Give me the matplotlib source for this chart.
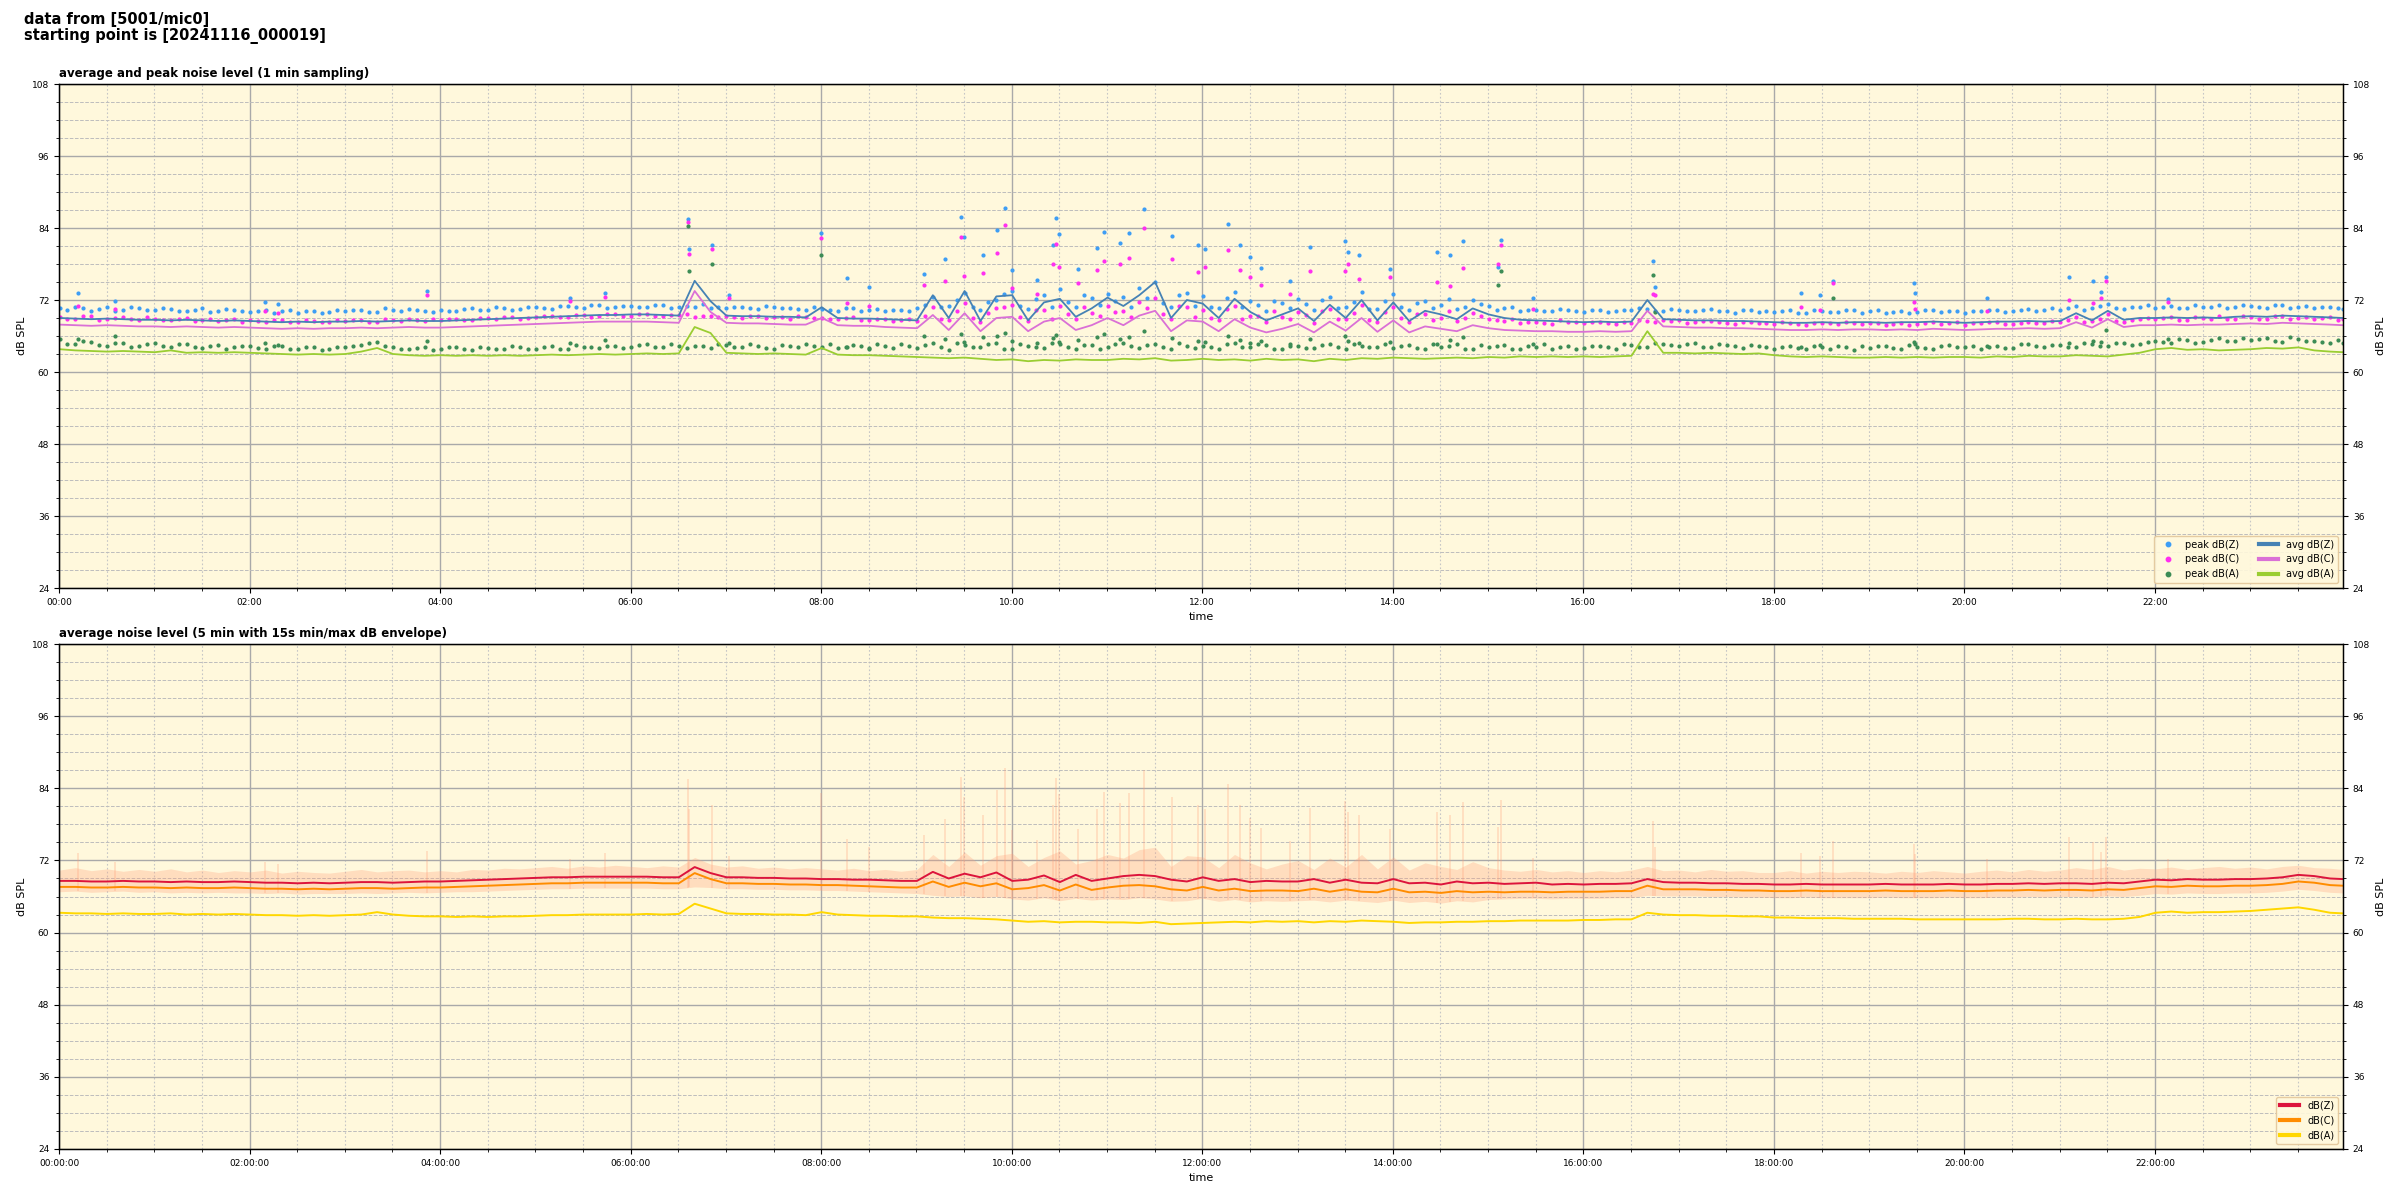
import datetime as dt
import numpy as np
import matplotlib
matplotlib.use("Agg")
import matplotlib.pyplot as plt
import matplotlib.dates as mdates
from matplotlib.ticker import MultipleLocator

# 10 minute samples, 00:00 .. 23:50 plus the last one at 23:58
# top panel (1 min sampling)
avg_z = [69.0, 68.9, 68.8, 68.9, 68.8, 68.7, 68.7, 68.6, 68.7, 68.6, 68.5, 68.6,
         68.5, 68.4, 68.3, 68.4, 68.3, 68.4, 68.4, 68.5, 68.4, 68.5, 68.6, 68.5,
         68.5, 68.6, 68.7, 68.8, 68.9, 69.0, 69.1, 69.2, 69.3, 69.4, 69.5, 69.5,
         69.6, 69.6, 69.5, 69.4, 75.2, 71.8, 69.4, 69.3, 69.3, 69.2, 69.2, 69.1,
         70.8, 69.0, 68.9, 68.9, 68.8, 68.7, 68.6, 72.8, 69.0, 73.5, 68.5, 72.6,
         72.8, 68.6, 71.6, 72.2, 69.2, 70.6, 72.4, 71.0, 72.8, 75.0, 69.0, 72.0,
         71.4, 69.0, 72.2, 70.0, 68.6, 69.6, 70.6, 68.5, 71.2, 69.0, 72.0, 68.6,
         71.6, 68.5, 70.2, 69.6, 68.8, 70.6, 69.6, 69.0, 68.7, 68.6, 68.5, 68.4,
         68.3, 68.4, 68.3, 68.4, 72.0, 68.8, 68.7, 68.6, 68.6, 68.5, 68.5, 68.4,
         68.3, 68.2, 68.2, 68.3, 68.2, 68.3, 68.3, 68.2, 68.3, 68.3, 68.4, 68.3,
         68.2, 68.3, 68.4, 68.4, 68.5, 68.4, 68.5, 69.8, 68.6, 70.2, 68.7, 69.0,
         69.0, 69.1, 69.0, 69.1, 69.0, 69.2, 69.3, 69.2, 69.4, 69.3, 69.2, 69.1, 69.0]
avg_c = [67.9, 67.8, 67.7, 67.8, 67.7, 67.6, 67.6, 67.5, 67.6, 67.5, 67.4, 67.5,
         67.4, 67.3, 67.2, 67.3, 67.2, 67.3, 67.3, 67.4, 67.3, 67.4, 67.5, 67.4,
         67.4, 67.5, 67.6, 67.7, 67.8, 67.9, 68.0, 68.1, 68.2, 68.3, 68.4, 68.4,
         68.4, 68.4, 68.3, 68.2, 73.5, 70.0, 68.2, 68.1, 68.1, 68.0, 67.9, 67.9,
         69.0, 67.8, 67.7, 67.7, 67.5, 67.4, 67.3, 69.5, 67.0, 69.8, 66.8, 69.0,
         69.2, 66.8, 68.4, 69.0, 67.0, 67.8, 69.0, 67.8, 69.4, 70.2, 66.8, 68.6,
         68.4, 66.8, 68.8, 67.4, 66.6, 67.2, 68.0, 66.6, 68.4, 66.9, 69.0, 66.7,
         68.6, 66.6, 67.6, 67.2, 66.8, 67.8, 67.3, 67.0, 66.9, 66.8, 66.8, 66.7,
         66.7, 66.8, 66.7, 66.8, 70.2, 67.6, 67.5, 67.4, 67.4, 67.3, 67.3, 67.2,
         67.1, 67.0, 67.0, 67.1, 67.0, 67.1, 67.1, 67.0, 67.1, 67.0, 67.2, 67.1,
         67.0, 67.1, 67.2, 67.2, 67.3, 67.2, 67.3, 68.3, 67.4, 68.8, 67.5, 67.8,
         67.8, 67.9, 67.8, 67.9, 67.9, 68.0, 68.1, 68.0, 68.2, 68.1, 68.0, 67.9, 67.8]
avg_a = [63.8, 63.6, 63.5, 63.4, 63.5, 63.4, 63.3, 63.6, 63.2, 63.3, 63.2, 63.3,
         63.2, 63.1, 63.0, 62.9, 63.0, 62.9, 63.0, 63.4, 64.0, 63.0, 62.8, 62.7,
         62.8, 62.7, 62.8, 62.7, 62.8, 62.7, 62.8, 62.9, 62.8, 62.9, 63.0, 62.9,
         63.0, 63.1, 63.0, 63.1, 67.5, 66.5, 63.2, 63.1, 63.0, 63.1, 63.0, 62.9,
         64.0, 62.9, 62.8, 62.8, 62.7, 62.6, 62.5, 62.4, 62.3, 62.4, 62.2, 62.0,
         62.1, 61.8, 62.0, 61.9, 62.1, 62.0, 62.0, 62.2, 62.1, 62.3, 61.9, 62.0,
         62.2, 62.0, 62.1, 61.9, 62.2, 62.0, 62.1, 61.8, 62.2, 62.0, 62.3, 62.2,
         62.4, 62.3, 62.2, 62.3, 62.4, 62.3, 62.5, 62.4, 62.6, 62.5, 62.6, 62.5,
         62.6, 62.5, 62.6, 62.7, 66.8, 63.2, 63.2, 63.1, 63.2, 63.1, 63.0, 63.1,
         62.8, 62.6, 62.5, 62.6, 62.5, 62.4, 62.4, 62.5, 62.4, 62.5, 62.4, 62.5,
         62.5, 62.4, 62.6, 62.5, 62.7, 62.6, 62.6, 62.8, 62.7, 62.6, 62.9, 63.2,
         63.8, 64.0, 63.7, 63.8, 63.6, 63.7, 63.8, 64.0, 63.9, 64.1, 63.6, 63.4, 63.3]
peak_z = [70.6, 70.9, 70.2, 70.8, 70.4, 70.7, 70.3, 70.5, 70.1, 70.6, 70.2, 70.4,
          70.0, 70.3, 70.1, 69.9, 70.2, 70.0, 70.1, 70.4, 70.0, 70.3, 70.5, 70.2,
          70.4, 70.1, 70.6, 70.3, 70.7, 70.5, 70.8, 70.5, 71.0, 70.7, 71.1, 70.9,
          71.0, 70.8, 71.2, 70.9, 70.9, 70.7, 70.7, 70.9, 70.5, 70.8, 70.6, 70.4,
          70.5, 70.2, 70.6, 70.3, 70.1, 70.4, 70.6, 72.5, 71.0, 73.2, 70.4, 72.0,
          73.5, 70.5, 72.8, 73.8, 70.9, 72.4, 73.0, 72.5, 74.0, 75.0, 70.8, 73.2,
          72.6, 70.6, 73.4, 71.8, 70.2, 71.5, 72.2, 70.3, 72.5, 70.8, 73.4, 70.5,
          73.0, 70.3, 71.8, 71.2, 70.5, 72.0, 71.0, 70.6, 70.2, 70.4, 70.1, 70.3,
          70.0, 70.3, 70.1, 70.4, 70.5, 70.2, 70.4, 70.2, 70.5, 70.1, 70.3, 70.0,
          70.0, 70.3, 69.9, 70.2, 70.0, 70.3, 70.1, 69.9, 70.2, 70.0, 70.3, 70.1,
          69.9, 70.2, 70.4, 70.1, 70.5, 70.3, 70.4, 71.0, 70.6, 71.3, 70.5, 70.9,
          70.7, 71.0, 70.6, 70.9, 71.2, 70.8, 71.0, 70.7, 71.1, 70.9, 70.6, 70.8, 70.5]
peak_c = [69.2, 68.8, 69.4, 68.9, 69.1, 68.7, 68.9, 68.6, 69.0, 68.7, 68.5, 68.8,
          68.6, 68.4, 68.7, 68.3, 68.5, 68.4, 68.5, 68.7, 68.4, 68.6, 68.8, 68.5,
          68.6, 68.9, 68.7, 69.0, 69.1, 68.9, 69.2, 69.4, 69.1, 69.5, 69.3, 69.6,
          69.4, 69.7, 69.3, 69.5, 69.2, 69.4, 69.3, 69.0, 69.4, 69.1, 68.9, 69.2,
          69.0, 68.8, 69.1, 68.7, 68.9, 68.6, 68.5, 70.8, 68.7, 71.5, 68.4, 70.6,
          71.2, 68.5, 70.4, 71.0, 68.9, 69.8, 71.0, 70.2, 71.6, 72.4, 68.8, 70.8,
          70.4, 68.6, 71.0, 69.4, 68.3, 69.2, 70.0, 68.2, 70.5, 68.8, 71.2, 68.4,
          70.8, 68.3, 69.6, 69.0, 68.5, 69.8, 68.9, 68.5, 68.2, 68.4, 68.0, 68.3,
          68.1, 68.3, 68.0, 68.2, 68.5, 68.7, 68.6, 68.3, 68.5, 68.2, 68.4, 68.1,
          68.0, 68.2, 67.9, 68.1, 68.0, 68.2, 68.1, 67.9, 68.2, 68.0, 68.3, 68.1,
          67.9, 68.1, 68.3, 68.0, 68.4, 68.2, 68.3, 69.2, 68.5, 69.6, 68.4, 68.9,
          68.8, 69.1, 68.7, 69.0, 69.3, 68.9, 69.2, 68.9, 69.4, 69.0, 68.8, 69.1, 68.8]
peak_a = [65.5, 64.6, 65.0, 64.3, 64.8, 64.4, 64.9, 64.2, 64.6, 64.0, 64.5, 64.2,
          64.4, 63.9, 64.3, 63.8, 64.2, 63.9, 64.1, 64.5, 65.0, 64.2, 63.8, 64.1,
          63.9, 64.2, 63.7, 64.0, 63.8, 64.1, 63.9, 64.3, 63.8, 64.2, 64.0, 64.4,
          64.2, 64.6, 64.1, 64.4, 64.3, 64.0, 64.5, 64.1, 64.4, 63.9, 64.3, 64.7,
          64.2, 64.0, 64.5, 63.9, 64.3, 64.6, 64.0, 64.8, 63.7, 64.5, 64.1, 64.9,
          63.9, 64.4, 64.0, 64.7, 63.8, 64.5, 64.2, 64.9, 64.0, 64.6, 63.8, 64.3,
          64.4, 63.9, 64.8, 64.1, 64.5, 63.8, 64.3, 64.0, 64.6, 63.9, 64.4, 64.1,
          64.0, 64.5, 63.8, 64.2, 64.6, 63.9, 64.1, 64.5, 63.8, 64.2, 63.9, 64.4,
          64.0, 64.3, 63.9, 64.5, 64.2, 64.6, 64.3, 64.8, 64.1, 64.5, 64.0, 64.4,
          63.9, 64.3, 63.8, 64.1, 64.4, 63.7, 64.0, 64.3, 63.8, 64.2, 63.9, 64.5,
          64.1, 63.8, 64.4, 64.0, 64.6, 64.2, 64.5, 64.1, 64.7, 64.3, 64.9, 64.6,
          65.2, 64.8, 65.4, 65.0, 65.6, 65.1, 65.3, 65.7, 65.0, 65.5, 65.2, 64.9, 64.8]
# peaks half way between the samples above (00:05, 00:15, ...)
peak_z_mid = [70.3, 70.7, 70.5, 70.1, 70.9, 70.4, 70.6, 70.2, 70.4, 70.0, 70.5, 70.1,
              70.2, 69.9, 70.4, 70.1, 69.8, 70.3, 70.3, 70.0, 70.6, 70.2, 70.4, 70.0,
              70.2, 70.5, 70.3, 70.8, 70.4, 70.9, 70.6, 71.0, 70.8, 71.2, 70.7, 71.0,
              70.9, 71.1, 70.7, 71.0, 71.3, 70.8, 70.9, 70.6, 71.0, 70.7, 70.5, 70.8,
              70.3, 70.6, 70.2, 70.5, 70.3, 70.1, 71.2, 70.8, 72.0, 70.9, 71.6, 73.0,
              71.0, 72.2, 70.8, 71.6, 72.8, 71.2, 71.8, 70.9, 72.4, 71.5, 72.9, 71.0,
              70.9, 72.4, 70.8, 71.2, 71.9, 70.6, 71.4, 72.0, 70.7, 71.6, 70.5, 71.9,
              70.8, 71.5, 70.6, 72.2, 70.9, 71.3, 70.4, 70.8, 70.3, 70.1, 70.5, 70.2,
              70.4, 70.0, 70.3, 70.6, 70.2, 70.5, 70.1, 70.4, 70.2, 69.9, 70.3, 70.1,
              70.2, 69.9, 70.3, 70.0, 70.4, 69.9, 70.3, 70.0, 69.8, 70.3, 70.0, 70.2,
              70.1, 70.4, 70.0, 70.3, 70.2, 70.6, 70.7, 70.4, 71.0, 70.6, 70.8, 71.1,
              70.9, 70.6, 71.1, 70.8, 70.7, 71.2, 70.8, 71.2, 70.7, 71.0, 70.9, 70.6]
peak_c_mid = [68.9, 69.3, 68.7, 69.0, 68.8, 69.1, 68.6, 68.9, 68.5, 68.8, 68.6, 68.4,
              68.5, 68.7, 68.3, 68.6, 68.4, 68.7, 68.6, 68.4, 68.8, 68.5, 68.7, 68.9,
              68.8, 68.6, 69.0, 68.8, 69.2, 69.0, 69.3, 69.1, 69.5, 69.2, 69.6, 69.4,
              69.6, 69.3, 69.5, 69.7, 69.4, 69.2, 69.1, 69.4, 69.0, 69.2, 69.3, 69.0,
              68.8, 69.0, 68.7, 68.9, 68.5, 68.8, 69.4, 68.9, 70.2, 69.0, 69.8, 70.9,
              69.2, 70.3, 68.9, 69.7, 70.8, 69.4, 70.0, 69.1, 70.6, 69.6, 71.0, 69.2,
              69.0, 70.5, 68.9, 69.3, 70.1, 68.8, 69.5, 70.2, 68.8, 69.8, 68.6, 70.0,
              69.0, 69.6, 68.7, 70.2, 69.0, 69.4, 68.6, 68.9, 68.4, 68.2, 68.6, 68.3,
              68.4, 68.1, 68.4, 68.6, 68.3, 68.5, 68.2, 68.5, 68.3, 68.0, 68.4, 68.2,
              68.3, 68.0, 68.2, 68.1, 68.3, 68.0, 68.2, 68.0, 67.9, 68.2, 68.0, 68.3,
              68.1, 68.3, 68.0, 68.2, 68.1, 68.5, 68.6, 68.3, 68.9, 68.5, 68.7, 69.0,
              69.0, 68.7, 69.2, 68.9, 68.8, 69.3, 68.9, 69.3, 68.8, 69.1, 69.0, 68.7]
peak_a_mid = [64.7, 65.2, 64.5, 64.9, 64.2, 64.6, 64.3, 64.7, 64.1, 64.4, 63.9, 64.3,
              64.0, 64.4, 63.8, 64.1, 63.7, 64.2, 64.3, 64.8, 64.4, 63.9, 64.0, 63.7,
              64.1, 63.8, 64.2, 63.9, 64.3, 63.9, 64.2, 63.9, 64.5, 64.1, 64.3, 64.0,
              64.5, 64.2, 64.6, 64.0, 64.4, 64.7, 64.2, 64.6, 64.0, 64.5, 64.1, 64.3,
              64.6, 64.1, 64.3, 64.7, 64.0, 64.4, 64.5, 64.1, 64.9, 64.2, 64.6, 63.9,
              64.6, 64.1, 64.8, 64.2, 64.5, 63.9, 64.7, 64.3, 64.5, 64.1, 64.8, 64.0,
              64.1, 64.6, 64.2, 64.7, 63.9, 64.4, 64.0, 64.5, 64.2, 64.7, 64.1, 64.6,
              64.3, 64.0, 64.6, 64.4, 63.9, 64.5, 64.4, 63.9, 64.3, 64.6, 64.1, 63.9,
              64.4, 64.1, 64.6, 64.2, 64.8, 64.5, 64.6, 64.2, 64.7, 64.3, 64.5, 64.1,
              64.2, 64.0, 64.4, 63.9, 64.1, 64.3, 64.3, 64.0, 64.5, 64.0, 64.4, 64.1,
              64.4, 64.2, 64.0, 64.6, 64.3, 64.5, 64.2, 64.8, 64.4, 64.9, 64.5, 65.0,
              65.0, 65.5, 64.9, 65.3, 65.1, 65.6, 65.5, 65.1, 65.8, 65.2, 65.0, 65.3]

# isolated loud minutes: time, peak dB(Z), peak dB(C), peak dB(A)
event_time = ["00:12", "00:35", "02:10", "02:18", "03:52", "05:22", "05:44", "06:36",
              "06:37", "06:51", "07:02", "08:00", "08:16", "08:30", "09:05", "09:18",
              "09:28", "09:30", "09:42", "09:51", "09:56", "10:00", "10:16", "10:26",
              "10:28", "10:30", "10:42", "10:54", "10:58", "11:08", "11:14", "11:23",
              "11:41", "11:57", "12:02", "12:16", "12:24", "12:30", "12:37", "12:55",
              "13:08", "13:30", "13:32", "13:39", "13:58", "14:28", "14:36", "14:44",
              "15:06", "15:08", "15:28", "16:44", "16:45", "18:17", "18:29", "18:37",
              "19:28", "19:29", "20:14", "21:06", "21:21", "21:26", "21:29", "22:08"]
event_z = [73.2, 71.8, 71.7, 71.4, 73.5, 72.3, 73.2, 85.5, 80.5, 81.2, 72.8, 83.2,
           75.6, 74.2, 76.3, 78.9, 85.8, 82.5, 79.5, 83.7, 87.3, 77.0, 75.4, 81.2,
           85.7, 83.0, 77.2, 80.6, 83.4, 81.5, 83.2, 87.1, 82.6, 81.2, 80.5, 84.7,
           81.2, 79.1, 77.4, 75.2, 80.8, 81.9, 80.0, 79.5, 77.2, 80.0, 79.5, 81.8,
           77.5, 82.0, 72.4, 78.5, 74.2, 73.2, 72.8, 75.2, 74.8, 73.1, 72.3, 75.9,
           75.1, 73.4, 75.9, 72.2]
event_c = [71.0, 70.5, 70.2, 69.8, 72.8, 71.8, 72.5, 85.0, 79.6, 80.5, 72.3, 82.3,
           71.5, 71.0, 74.5, 75.2, 82.5, 76.0, 76.5, 79.8, 84.5, 74.0, 73.0, 78.0,
           81.4, 77.5, 74.8, 77.0, 78.5, 78.0, 79.0, 84.0, 78.8, 76.7, 77.5, 80.3,
           77.0, 75.8, 74.5, 73.0, 76.9, 76.9, 78.0, 75.5, 75.8, 75.0, 74.3, 77.3,
           78.0, 81.2, 70.5, 73.0, 72.8, 70.8, 70.3, 74.8, 71.6, 70.5, 70.2, 72.0,
           71.5, 72.4, 75.2, 71.6]
event_a = [65.5, 66.0, 64.8, 64.5, 65.2, 64.9, 65.4, 84.3, 76.8, 78.0, 64.8, 79.5,
           64.2, 64.0, 66.0, 65.5, 66.3, 65.0, 65.8, 66.0, 66.5, 65.2, 64.8, 65.6,
           66.2, 65.0, 65.4, 65.9, 66.4, 65.5, 65.8, 66.8, 65.6, 65.2, 65.0, 66.0,
           65.4, 64.9, 65.1, 64.6, 65.5, 66.0, 65.2, 64.8, 65.0, 64.7, 65.3, 65.8,
           74.5, 76.8, 64.6, 76.2, 70.0, 64.2, 64.5, 72.4, 65.0, 64.6, 64.3, 64.9,
           65.2, 65.0, 67.0, 65.5]

# bottom panel (5 min average + 15 s min/max envelope)
env_z = [68.6, 68.6, 68.5, 68.5, 68.6, 68.5, 68.5, 68.4, 68.5, 68.4, 68.4, 68.5,
         68.4, 68.3, 68.3, 68.2, 68.3, 68.2, 68.3, 68.4, 68.4, 68.3, 68.4, 68.5,
         68.5, 68.6, 68.7, 68.8, 68.9, 69.0, 69.1, 69.2, 69.2, 69.3, 69.3, 69.3,
         69.3, 69.3, 69.2, 69.2, 70.9, 69.9, 69.2, 69.2, 69.1, 69.1, 69.0, 69.0,
         68.9, 68.9, 68.8, 68.8, 68.7, 68.6, 68.6, 70.1, 69.0, 69.8, 69.2, 70.0,
         68.6, 68.8, 69.5, 68.4, 69.6, 68.6, 69.0, 69.4, 69.6, 69.4, 68.8, 68.5,
         69.2, 68.6, 68.9, 68.4, 68.6, 68.5, 68.5, 68.9, 68.3, 68.8, 68.3, 68.2,
         68.9, 68.2, 68.3, 68.0, 68.5, 68.2, 68.3, 68.1, 68.2, 68.3, 68.0, 68.1,
         68.0, 68.1, 68.1, 68.2, 68.9, 68.4, 68.3, 68.3, 68.2, 68.2, 68.1, 68.1,
         68.0, 68.0, 68.1, 68.0, 68.0, 68.0, 68.0, 68.1, 68.0, 68.0, 68.0, 68.1,
         68.0, 68.0, 68.1, 68.1, 68.2, 68.1, 68.2, 68.2, 68.1, 68.3, 68.2, 68.5,
         68.8, 68.7, 68.9, 68.8, 68.8, 68.9, 68.9, 69.0, 69.2, 69.6, 69.4, 69.0, 68.9]
env_c = [67.6, 67.6, 67.5, 67.5, 67.6, 67.5, 67.5, 67.4, 67.5, 67.4, 67.4, 67.5,
         67.4, 67.3, 67.3, 67.2, 67.3, 67.2, 67.3, 67.4, 67.4, 67.3, 67.4, 67.5,
         67.5, 67.6, 67.7, 67.8, 67.9, 68.0, 68.1, 68.2, 68.2, 68.3, 68.3, 68.3,
         68.3, 68.3, 68.2, 68.2, 69.9, 68.9, 68.2, 68.2, 68.1, 68.1, 68.0, 68.0,
         67.9, 67.9, 67.8, 67.7, 67.6, 67.5, 67.5, 68.5, 67.6, 68.3, 67.7, 68.2,
         67.2, 67.4, 67.9, 67.0, 68.0, 67.1, 67.5, 67.8, 67.9, 67.7, 67.2, 67.0,
         67.6, 67.0, 67.3, 66.9, 67.0, 67.0, 66.9, 67.3, 66.8, 67.2, 66.8, 66.7,
         67.3, 66.7, 66.8, 66.6, 66.9, 66.7, 66.8, 66.7, 66.8, 66.8, 66.7, 66.8,
         66.8, 66.8, 66.9, 66.9, 67.8, 67.2, 67.2, 67.2, 67.1, 67.1, 67.0, 67.0,
         66.9, 66.9, 67.0, 66.9, 66.9, 66.9, 66.9, 67.0, 66.9, 66.9, 66.9, 67.0,
         66.9, 66.9, 67.0, 67.0, 67.1, 67.0, 67.1, 67.1, 67.0, 67.2, 67.1, 67.4,
         67.7, 67.6, 67.8, 67.7, 67.7, 67.8, 67.8, 67.9, 68.1, 68.5, 68.3, 67.9, 67.8]
env_a = [63.3, 63.2, 63.2, 63.1, 63.2, 63.1, 63.1, 63.2, 63.0, 63.1, 63.0, 63.1,
         63.0, 62.9, 62.9, 62.8, 62.9, 62.8, 62.9, 63.0, 63.4, 63.0, 62.8, 62.7,
         62.7, 62.6, 62.7, 62.6, 62.7, 62.7, 62.8, 62.9, 62.9, 63.0, 63.0, 63.0,
         63.0, 63.1, 63.0, 63.1, 64.8, 64.0, 63.2, 63.1, 63.1, 63.0, 63.0, 62.9,
         63.4, 63.0, 62.9, 62.8, 62.8, 62.7, 62.7, 62.5, 62.4, 62.4, 62.3, 62.2,
         62.0, 61.8, 61.9, 61.7, 61.8, 61.8, 61.7, 61.7, 61.6, 61.8, 61.4, 61.5,
         61.6, 61.7, 61.8, 61.7, 61.9, 61.8, 61.9, 61.7, 61.9, 61.8, 62.0, 61.9,
         61.8, 61.6, 61.7, 61.7, 61.8, 61.8, 61.9, 61.9, 62.0, 62.0, 62.0, 62.0,
         62.1, 62.1, 62.2, 62.2, 63.3, 63.0, 62.9, 62.9, 62.8, 62.8, 62.7, 62.7,
         62.5, 62.5, 62.4, 62.4, 62.4, 62.3, 62.3, 62.3, 62.3, 62.2, 62.2, 62.2,
         62.2, 62.2, 62.2, 62.3, 62.3, 62.2, 62.2, 62.3, 62.2, 62.2, 62.3, 62.6,
         63.3, 63.5, 63.3, 63.4, 63.4, 63.5, 63.6, 63.8, 64.0, 64.2, 63.8, 63.3, 63.2]
env_hi = [70.4, 70.8, 70.3, 70.6, 70.2, 70.5, 70.2, 70.6, 70.1, 70.4, 70.0, 70.3,
          70.1, 70.4, 69.9, 70.2, 70.0, 69.9, 70.2, 70.5, 70.1, 70.3, 70.4, 70.1,
          70.3, 70.1, 70.5, 70.4, 70.7, 70.6, 70.8, 71.0, 70.7, 71.1, 70.9, 71.2,
          71.0, 70.8, 71.1, 70.9, 72.5, 71.4, 70.9, 71.1, 70.7, 70.9, 70.6, 70.8,
          70.6, 70.4, 70.7, 70.3, 70.5, 70.2, 70.5, 73.0, 71.0, 73.4, 71.2, 72.8,
          73.2, 71.0, 72.5, 73.6, 71.4, 72.0, 73.0, 72.4, 73.8, 74.2, 71.0, 72.8,
          72.6, 70.8, 73.0, 71.6, 70.6, 71.4, 72.0, 70.5, 72.4, 70.9, 73.0, 70.6,
          72.6, 70.4, 71.6, 71.0, 70.5, 71.8, 70.8, 70.4, 70.2, 70.5, 70.1, 70.3,
          70.0, 70.3, 70.1, 70.4, 71.0, 70.3, 70.4, 70.1, 70.5, 70.2, 70.3, 70.0,
          70.0, 70.3, 69.9, 70.2, 70.0, 70.2, 70.1, 69.9, 70.2, 70.0, 70.3, 70.1,
          69.9, 70.2, 70.4, 70.1, 70.5, 70.2, 70.4, 70.8, 70.5, 71.0, 70.4, 70.7,
          70.6, 70.9, 70.5, 70.8, 71.0, 70.7, 70.9, 70.6, 71.0, 71.2, 70.8, 70.7, 70.5]
env_lo = [66.8, 66.9, 66.7, 66.8, 66.9, 66.7, 66.8, 66.6, 66.7, 66.6, 66.7, 66.6,
          66.6, 66.5, 66.6, 66.4, 66.5, 66.5, 66.5, 66.6, 66.5, 66.6, 66.7, 66.6,
          66.7, 66.8, 66.8, 66.9, 67.0, 67.1, 67.2, 67.3, 67.3, 67.4, 67.4, 67.4,
          67.4, 67.4, 67.3, 67.3, 67.6, 67.5, 67.3, 67.3, 67.2, 67.2, 67.1, 67.1,
          67.0, 67.0, 66.9, 66.8, 66.7, 66.6, 66.5, 66.2, 66.0, 66.1, 65.8, 66.0,
          65.6, 65.4, 65.8, 65.3, 65.7, 65.4, 65.6, 65.5, 65.8, 65.6, 65.2, 65.3,
          65.7, 65.2, 65.5, 65.1, 65.3, 65.2, 65.3, 65.4, 65.1, 65.4, 65.2, 65.0,
          65.4, 65.0, 65.2, 64.9, 65.3, 65.1, 65.5, 65.6, 65.7, 65.7, 65.6, 65.7,
          65.7, 65.7, 65.8, 65.8, 66.2, 66.1, 66.1, 66.1, 66.0, 66.0, 65.9, 65.9,
          65.8, 65.8, 65.9, 65.8, 65.8, 65.8, 65.8, 65.9, 65.8, 65.8, 65.8, 65.9,
          65.8, 65.8, 65.9, 65.9, 66.0, 65.9, 66.0, 66.0, 65.9, 66.1, 66.0, 66.2,
          66.5, 66.4, 66.6, 66.5, 66.5, 66.6, 66.6, 66.7, 66.9, 67.2, 67.0, 66.7, 66.6]

day = dt.datetime(2024, 11, 16)
start = day + dt.timedelta(seconds=19)
minutes = list(range(0, 1440, 10)) + [1438]
t = [start + dt.timedelta(minutes=m) for m in minutes]
t_mid = [start + dt.timedelta(minutes=m + 5) for m in range(0, 1440, 10)]
ev_t = [dt.datetime.strptime("20241116 " + s, "%Y%m%d %H:%M") for s in event_time]
ev_min = [(e - start).total_seconds() / 60 for e in ev_t]

bg = "#fff8dc"
ylim = (24, 108)
xlim = (day, day + dt.timedelta(minutes=1438, seconds=30))


def style_axes(ax, fmt):
    ax.set_facecolor(bg)
    ax.set_ylim(*ylim)
    ax.set_xlim(*xlim)
    ax.yaxis.set_major_locator(MultipleLocator(12))
    ax.yaxis.set_minor_locator(MultipleLocator(3))
    ax.xaxis.set_major_locator(mdates.HourLocator(byhour=range(0, 24, 2)))
    ax.xaxis.set_minor_locator(mdates.MinuteLocator(byminute=[0, 30]))
    ax.xaxis.set_major_formatter(mdates.DateFormatter(fmt))
    ax.grid(which="major", color="#a9a9a9", linewidth=1.0, linestyle="-")
    ax.grid(which="minor", axis="y", color="#bdbdbd", linewidth=0.7, linestyle="--")
    ax.grid(which="minor", axis="x", color="#c6c6c6", linewidth=0.8,
            linestyle=(0, (1.5, 2)))
    ax.set_axisbelow(True)
    ax.tick_params(labelsize=6.5)
    ax.set_xlabel("time", fontsize=8)
    ax.set_ylabel("dB SPL", fontsize=8)
    for s in ax.spines.values():
        s.set_linewidth(1.0)
    # right hand copy of the y axis
    ax2 = ax.twinx()
    ax2.set_ylim(*ylim)
    ax2.yaxis.set_major_locator(MultipleLocator(12))
    ax2.yaxis.set_minor_locator(MultipleLocator(3))
    ax2.tick_params(labelsize=6.5)
    ax2.set_ylabel("dB SPL", fontsize=8)
    return ax2


fig = plt.figure(figsize=(24, 12), dpi=100)
fig.text(0.01, 0.99, "data from [5001/mic0]\nstarting point is [20241116_000019]",
         fontsize=10.5, fontweight="bold", va="top", ha="left", linespacing=1.05)

ax1 = fig.add_axes([0.0246, 0.51, 0.9517, 0.42])
ax3 = fig.add_axes([0.0246, 0.0425, 0.9517, 0.4208])

# ---- top: average and peak
ms = 4
ax1.plot(t, peak_z, ".", color="#3d9df5", markersize=ms, label="peak dB(Z)")
ax1.plot(t, peak_c, ".", color="#ff2ef0", markersize=ms, label="peak dB(C)")
ax1.plot(t, peak_a, ".", color="#3c8c55", markersize=ms, label="peak dB(A)")
ax1.plot(t_mid, peak_z_mid, ".", color="#3d9df5", markersize=ms)
ax1.plot(t_mid, peak_c_mid, ".", color="#ff2ef0", markersize=ms)
ax1.plot(t_mid, peak_a_mid, ".", color="#3c8c55", markersize=ms)
ax1.plot(ev_t, event_z, ".", color="#3d9df5", markersize=ms)
ax1.plot(ev_t, event_c, ".", color="#ff2ef0", markersize=ms)
ax1.plot(ev_t, event_a, ".", color="#3c8c55", markersize=ms)
ax1.plot(t, avg_z, color="#4682b4", linewidth=1.3, label="avg dB(Z)")
ax1.plot(t, avg_c, color="#da70d6", linewidth=1.3, label="avg dB(C)")
ax1.plot(t, avg_a, color="#9acd32", linewidth=1.3, label="avg dB(A)")
style_axes(ax1, "%H:%M")
ax1.set_title("average and peak noise level (1 min sampling)", loc="left",
              fontsize=8.5, fontweight="bold", pad=5)
leg = ax1.legend(loc="lower right", ncol=2, fontsize=7, markerscale=1.6,
                 facecolor=bg, edgecolor="#e3c79a", framealpha=0.9)
for ln in leg.get_lines()[3:]:
    ln.set_linewidth(3)

# ---- bottom: 5 min average with envelope
ax3.fill_between(t, env_lo, env_hi, color="lightsalmon", alpha=0.3, linewidth=0)
spike_lo = np.interp(ev_min, minutes, env_lo)
ax3.vlines(ev_t, spike_lo, event_z, color="lightsalmon", alpha=0.35, linewidth=1.1)
ax3.plot(t, env_z, color="#dc143c", linewidth=1.4, label="dB(Z)")
ax3.plot(t, env_c, color="#ff8c00", linewidth=1.4, label="dB(C)")
ax3.plot(t, env_a, color="#ffd700", linewidth=1.4, label="dB(A)")
style_axes(ax3, "%H:%M:%S")
ax3.set_title("average noise level (5 min with 15s min/max dB envelope)", loc="left",
              fontsize=8.5, fontweight="bold", pad=5)
leg2 = ax3.legend(loc="lower right", fontsize=7, facecolor=bg,
                  edgecolor="#e3c79a", framealpha=0.9)
for ln in leg2.get_lines():
    ln.set_linewidth(3)

fig.savefig("out.png", dpi=100)
